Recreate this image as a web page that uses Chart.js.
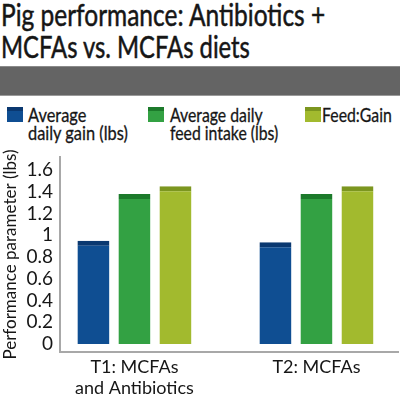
<!DOCTYPE html>
<html>
<head>
<meta charset="utf-8">
<script src="https://cdn.jsdelivr.net/npm/chart.js@4/dist/chart.umd.min.js"></script>
<style>
  html, body { margin: 0; padding: 0; background: #fff; }
  body { width: 400px; height: 398px; position: relative; overflow: hidden;
         font-family: Lato, "Open Sans", sans-serif; color: #161616; }
  .line { position: absolute; left: 1px; white-space: nowrap; transform-origin: 0 0; font-size: 30px; line-height: 30px;
          -webkit-text-stroke: 0.5px #161616; }
  #band { position: absolute; left: 0; top: 66px; width: 400px; height: 28px; background: #646464;
          border-top: 1px solid #8a8a8a; border-bottom: 1px solid #9a9a9a; }
  .sw { position: absolute; width: 16px; height: 11px; border-top: 4px solid; }
  .lt { position: absolute; font-size: 19px; line-height: 18px; white-space: nowrap; transform-origin: 0 0;
        -webkit-text-stroke: 0.3px #161616; }
  #wrap { position: absolute; left: 0; top: 0; width: 400px; height: 398px; }
</style>
</head>
<body>
<div id="title"></div>
<div id="band"></div>
<div id="legend"></div>
<div id="wrap"><canvas id="chart" width="400" height="398"></canvas></div>
<script>
// データ
const titleLines = ["Pig performance: Antibiotics +", "MCFAs vs. MCFAs diets"];
const categories = [["T1: MCFAs", "and Antibiotics"], ["T2: MCFAs"]];
const seriesLabels = [["Average", "daily gain (lbs)"], ["Average daily", "feed intake (lbs)"], ["Feed:Gain"]];
const dailyGain = [0.95, 0.935];
const feedIntake = [1.38, 1.38];
const feedGain = [1.45, 1.45];
const yTicks = [0, 0.2, 0.4, 0.6, 0.8, 1, 1.2, 1.4, 1.6];

// 色（本体, 上端）
const fills = ["#0f4e92", "#33a143", "#a2ba2e"];
const caps = ["#0a3870", "#1c7a2b", "#7c961f"];

const fontStack = 'Lato, "Open Sans", sans-serif';

// ✅ 横幅に合わせて文字を縮める
function fitWidth(el, target) {
    const w = el.scrollWidth;
    if (w > 0) el.style.transform = `scaleX(${target / w})`;
}

// ✅ タイトル
const titleEl = document.getElementById("title");
const titleTops = [-1, 31];
const titleWidths = [324, 249];
titleLines.forEach((t, i) => {
    const d = document.createElement("div");
    d.className = "line";
    d.style.top = titleTops[i] + "px";
    d.textContent = t;
    titleEl.appendChild(d);
    fitWidth(d, titleWidths[i]);
});

// ✅ 凡例（HTML）
const legendBox = [{ x: 7, t: 28, w: 100 }, { x: 148, t: 170, w: 108 }, { x: 305, t: 322, w: 70 }];
const legendEl = document.getElementById("legend");
seriesLabels.forEach((lines, i) => {
    const sw = document.createElement("div");
    sw.className = "sw";
    sw.style.left = legendBox[i].x + "px";
    sw.style.top = "107px";
    sw.style.background = fills[i];
    sw.style.borderColor = caps[i];
    legendEl.appendChild(sw);
    const tx = document.createElement("div");
    tx.className = "lt";
    tx.style.left = legendBox[i].t + "px";
    tx.style.top = "106px";
    tx.innerHTML = lines.join("<br>");
    legendEl.appendChild(tx);
    fitWidth(tx, legendBox[i].w);
});

const series = [dailyGain, feedIntake, feedGain];

new Chart(document.getElementById("chart"), {
    type: "bar",
    data: {
        datasets: series.map((vals, i) => ({
            label: seriesLabels[i].join(" "),
            data: vals.map((v, j) => ({ x: j, y: v })),
            backgroundColor: fills[i],
            borderColor: caps[i],
            borderWidth: { top: 5, left: 0, right: 0, bottom: 0 },
            borderSkipped: false,
            categoryPercentage: 0.676,
            barPercentage: 0.78
        }))
    },
    options: {
        responsive: false,
        animation: false,
        layout: { padding: { top: 157, right: 2, left: 0, bottom: 0 } },
        plugins: { legend: { display: false }, tooltip: { enabled: false } },
        scales: {
            x: {
                type: "linear",
                offset: false,
                min: -0.409,
                max: 1.448,
                afterBuildTicks: s => { s.ticks = categories.map((c, i) => ({ value: i })); },
                afterFit: s => { s.height = 46; },
                grid: { display: false, drawTicks: false, offset: false },
                border: { display: true, color: "#a8a8a8", width: 2 },
                ticks: {
                    callback: (v, i) => categories[i],
                    color: "#161616",
                    padding: 5,
                    maxRotation: 0,
                    autoSkip: false,
                    font: { family: fontStack, size: 18, lineHeight: 1.15 }
                }
            },
            y: {
                min: -0.074,
                max: 1.72,
                afterBuildTicks: s => { s.ticks = yTicks.map(v => ({ value: v })); },
                afterFit: s => { s.width = 60; },
                grid: { display: false, drawTicks: false },
                border: { display: true, color: "#a8a8a8", width: 2 },
                ticks: {
                    callback: v => String(+v.toFixed(1)),
                    color: "#161616",
                    padding: 7,
                    autoSkip: false,
                    font: { family: fontStack, size: 19 }
                },
                title: {
                    display: true,
                    text: "Performance parameter (lbs)",
                    color: "#161616",
                    padding: { top: 0, bottom: 2 },
                    font: { family: fontStack, size: 17 }
                }
            }
        }
    }
});
</script>
</body>
</html>
